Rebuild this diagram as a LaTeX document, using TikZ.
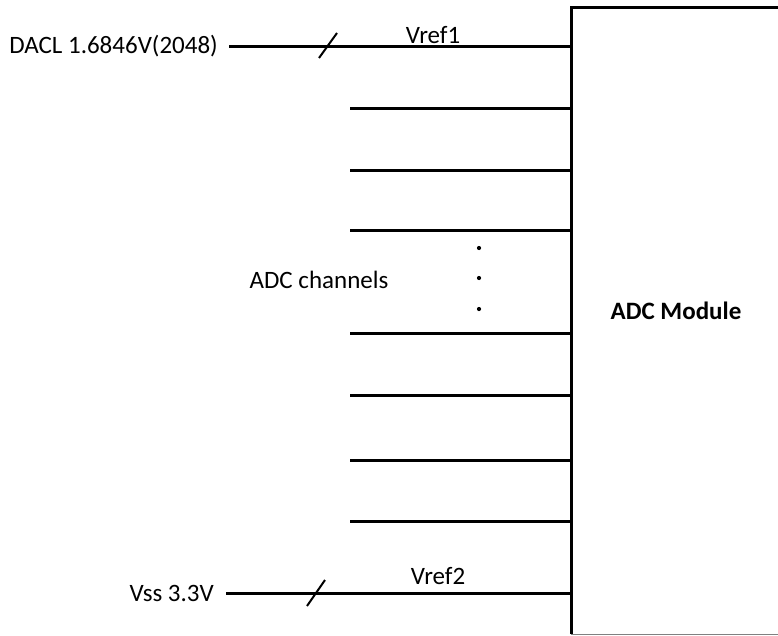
\documentclass[tikz,border=0pt]{standalone}
\usepackage{fontspec}
\setmainfont{Carlito}
\begin{document}
\begin{tikzpicture}[x=1pt,y=-1pt,
  lbl/.style={inner sep=0pt,font=\fontsize{25}{29}\selectfont},
  wire/.style={line width=3pt},
  slash/.style={line width=2pt},
  dotm/.style={circle,fill=black,inner sep=0pt,minimum size=4.2pt}]
\useasboundingbox (0,0) rectangle (778,635);
% module box
\coordinate (bl) at (571,634);
\coordinate (tl) at (571,7);
\coordinate (tr) at (790,7);
\coordinate (br) at (790,634);
\draw[line width=0.8pt,gray] (bl) -- (br);
\draw[wire] (bl) -- (tl) -- (tr);
\node[lbl,font=\fontsize{25}{29}\selectfont\bfseries] (mod) at (676,311) {ADC Module};
% Vref1
\node[lbl,anchor=east] (dacl) at (218,46) {DACL 1.6846V(2048)};
\coordinate (r1) at (571,46);
\draw[wire] ([xshift=11pt]dacl.east) -- (r1);
\coordinate (s1a) at (319,58); \coordinate (s1b) at (337,33);
\draw[slash] (s1a) -- (s1b);
\node[lbl] (vref1) at (433,35) {Vref1};
% Vref2
\node[lbl,anchor=east] (vss) at (214,593) {Vss 3.3V};
\coordinate (r2) at (571,593);
\draw[wire] ([xshift=12pt]vss.east) -- (r2);
\coordinate (s2a) at (307,606); \coordinate (s2b) at (325,580);
\draw[slash] (s2a) -- (s2b);
\node[lbl] (vref2) at (438,576) {Vref2};
% channels
\foreach \y [count=\i] in {108,170,230,333,395,460,521}{
  \coordinate (c\i a) at (350,\y);
  \coordinate (c\i b) at (571,\y);
  \draw[wire] (c\i a) -- (c\i b);
}
\node[dotm] (d1) at (479,248) {};
\node[dotm] (d2) at (479,278) {};
\node[dotm] (d3) at (479,309) {};
\node[lbl] (ch) at (319,280) {ADC channels};
\end{tikzpicture}
\end{document}
